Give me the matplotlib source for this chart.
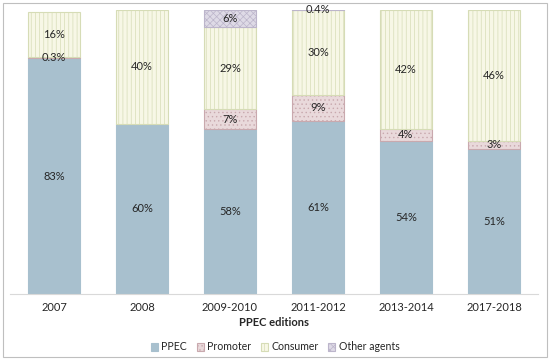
import matplotlib
matplotlib.use("Agg")
import matplotlib.pyplot as plt
from matplotlib.patches import Rectangle

plt.rcParams["font.family"] = ["Lato", "DejaVu Sans"]
plt.rcParams["hatch.linewidth"] = 0.5

# data (% of actions per agent)
editions = ["2007", "2008", "2009-2010", "2011-2012", "2013-2014", "2017-2018"]
ppec = [83, 60, 58, 61, 54, 51]
promoter = [0.3, 0, 7, 9, 4, 3]
consumer = [16, 40, 29, 30, 42, 46]
other = [0, 0, 6, 0.4, 0, 0]

series = [
    ("PPEC", ppec, "#a8c0ce", "#a8c0ce", None),
    ("Promoter", promoter, "#e9d9db", "#c9a9ae", "...."),
    ("Consumer", consumer, "#f7f7e6", "#d6dcb6", "||||"),
    ("Other agents", other, "#dedae6", "#bcb5cb", "xxxxx"),
]

fig = plt.figure(figsize=(5.5, 3.63), dpi=100)
ax = fig.add_axes([10 / 550, 1 - 294 / 363, 528 / 550, 284 / 363])

x = list(range(len(editions)))
bottom = [0.0] * len(editions)
handles = []
for name, vals, face, edge, hatch in series:
    # only draw the non-empty segments
    xs = [i for i, v in enumerate(vals) if v > 0]
    hs = [vals[i] for i in xs]
    bs = [bottom[i] for i in xs]
    bars = ax.bar(xs, hs, width=0.59, bottom=bs, color=face,
                  edgecolor=edge, hatch=hatch, linewidth=0.8, label=name)
    handles.append(bars)
    for i, v, b in zip(xs, hs, bs):
        txt = ("%g%%" % v) if v != int(v) else "%d%%" % v
        ax.text(i, b + v / 2, txt, ha="center", va="center",
                fontsize=8, color="#262626")
    bottom = [b + v for b, v in zip(bottom, vals)]

ax.set_xlim(-0.5, len(editions) - 0.5)
ax.set_ylim(0, 100)
ax.set_xticks(x)
ax.set_xticklabels(editions, fontsize=8, color="#262626")
ax.tick_params(axis="x", length=0, pad=6)
ax.set_yticks([])
for s in ["top", "left", "right"]:
    ax.spines[s].set_visible(False)
ax.spines["bottom"].set_color("#d9d9d9")
ax.set_xlabel("PPEC editions", fontsize=8, fontweight="bold",
              color="#262626", labelpad=3)

fig.legend(handles=handles, loc="center", bbox_to_anchor=(0.5, 1 - 347 / 363),
           ncol=4, frameon=False, fontsize=7.6, handlelength=0.7,
           handleheight=0.7, handletextpad=0.3, columnspacing=0.9,
           labelcolor="#262626")

fig.patches.append(Rectangle((3 / 550, 6 / 363), 544 / 550, 354 / 363,
                             transform=fig.transFigure, fill=False,
                             edgecolor="#bfbfbf", linewidth=0.8))

fig.savefig("out.png", dpi=100)
